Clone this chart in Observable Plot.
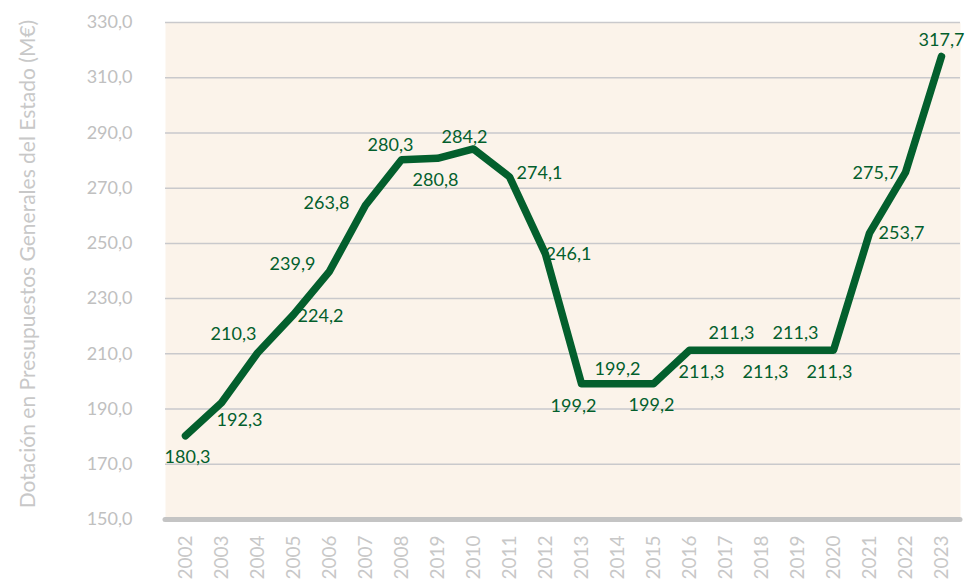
<!DOCTYPE html>
<html>
<head>
<meta charset="utf-8">
<script src="https://cdn.jsdelivr.net/npm/d3@7"></script>
<script src="https://cdn.jsdelivr.net/npm/@observablehq/plot@0.6"></script>
<style>
  body { margin: 0; background: #ffffff; }
  #chart svg { display: block; }
</style>
</head>
<body>
<div id="chart"></div>
<script>
// ---- Data ----
const yearLabels = ["2002","2003","2004","2005","2006","2007","2008","2019","2010","2011","2012",
                    "2013","2014","2015","2016","2017","2018","2019","2020","2021","2022","2023"];
const values = [180.3,192.3,210.3,224.2,239.9,263.8,280.3,280.8,284.2,274.1,246.1,
                199.2,199.2,199.2,211.3,211.3,211.3,211.3,211.3,253.7,275.7,317.7];
const yTicks = [150,170,190,210,230,250,270,290,310,330];
const yTitle = "Dotación en Presupuestos Generales del Estado (M€)";

// ---- Label layout (offsets from each point) ----
const labelDx = [2,18,-24,27,-37,-39,-11,-2,-9,30,23,-8,0,-2,12,6,4,-2,-4,32,-30,0];
const labelDy = [21,18,-19,2,-7,-2,-14,22,-12,-4,0,23,-14,22,22,-17,22,-17,22,0,1,-16];

const esLocale = d3.formatLocale({decimal: ",", thousands: ".", grouping: [3], currency: ["", " €"]});
const fmt1 = esLocale.format(".1f");

const data = values.map((v, i) => ({i, v, label: fmt1(v)}));

const green = "#035f2d";

const labelMarks = data.map((d, k) => Plot.text([d], {
  x: "i", y: "v", text: "label",
  dx: labelDx[k], dy: labelDy[k],
  fill: green, fontSize: 18
}));

const chart = Plot.plot({
  width: 967,
  height: 585,
  marginLeft: 165,
  marginRight: 7,
  marginTop: 22,
  marginBottom: 66,
  style: {fontFamily: "Lato, 'Open Sans', sans-serif", background: "#ffffff"},
  x: {type: "point", domain: d3.range(values.length), padding: 0.36},
  y: {domain: [150, 330]},
  marks: [
    Plot.frame({fill: "#fbf3ea", stroke: null}),
    Plot.gridY(yTicks.filter(d => d > 150), {stroke: "#c9c9cc", strokeOpacity: 1, strokeWidth: 1.5}),
    Plot.ruleY([150], {stroke: "#c4c4c4", strokeWidth: 5, strokeLinecap: "round"}),
    Plot.axisY(yTicks, {
      tickSize: 0, tickPadding: 33, tickFormat: fmt1,
      fill: "#c0c0c0", fontSize: 18, label: null
    }),
    Plot.axisX({
      tickSize: 0, tickRotate: -90, tickPadding: 16,
      tickFormat: i => yearLabels[i],
      fill: "#c8c8c8", fontSize: 19, label: null
    }),
    Plot.text([yTitle], {
      frameAnchor: "left", rotate: -90, dx: -137, dy: -7,
      textAnchor: "middle",
      fill: "#c8c8c8", fontSize: 21
    }),
    Plot.line(data, {
      x: "i", y: "v", stroke: green, strokeWidth: 7.5,
      strokeLinejoin: "round", strokeLinecap: "round"
    }),
    ...labelMarks
  ]
});

document.getElementById("chart").appendChild(chart);
</script>
</body>
</html>
